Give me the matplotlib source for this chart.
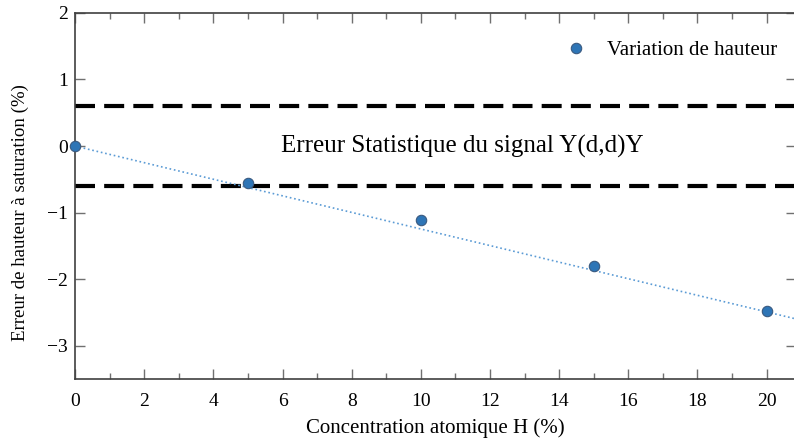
import matplotlib.pyplot as plt
import numpy as np

# concentration H (%) and relative height error (%)
conc = [0, 5, 10, 15, 20]
err = [0.0, -0.55, -1.11, -1.80, -2.48]
stat_err = 0.6
x_fit = [0, 20.85]
fit_slope = -0.1245

plt.rcParams['font.family'] = ['Liberation Serif', 'DejaVu Serif']
plt.rcParams['axes.unicode_minus'] = True

fig = plt.figure(figsize=(7.94, 4.45), dpi=100)
ax = fig.add_axes([0.0945, 0.148, 0.908, 0.823])

# statistical error band limits
for yv in (stat_err, -stat_err):
    ax.axhline(yv, color='black', lw=3, dashes=(4.8, 2.2), zorder=1)

ax.plot(x_fit, [fit_slope * v for v in x_fit], ls=':', color='#5b9bd5', lw=1.2, zorder=2)
ax.plot(conc, err, 'o', color='#2e75b6', mec='#3a5a80', mew=0.8, ms=7.5,
        label='Variation de hauteur', zorder=3, clip_on=False)

ax.text(11.2, 0.0, 'Erreur Statistique du signal Y(d,d)Y', fontsize=18, ha='center', va='center')

ax.set_xlim(0, 20.85)
ax.set_ylim(-3.5, 2)
ax.set_xticks(np.arange(0, 21, 2))
ax.set_xticks(np.arange(1, 21, 2), minor=True)
ax.set_yticks([-3, -2, -1, 0, 1, 2])

for s in ['left', 'bottom', 'top', 'right']:
    ax.spines[s].set_color('#404040')
    ax.spines[s].set_linewidth(1.2)

ax.tick_params(which='both', direction='in', top=True, right=True, color='#707070', labelsize=14)
ax.tick_params(which='major', length=7, width=1)
ax.tick_params(which='minor', length=4, width=1)
ax.tick_params(axis='x', pad=10)
ax.tick_params(axis='y', pad=5)

ax.set_xlabel('Concentration atomique H (%)', fontsize=15, labelpad=6)
ax.set_ylabel('Erreur de hauteur à saturation (%)', fontsize=13.6)
ax.yaxis.set_label_coords(-0.064, 0.456)

ax.legend(loc='upper right', frameon=False, fontsize=15, handletextpad=0.5,
          bbox_to_anchor=(1.0, 0.975))

fig.savefig('out.png', dpi=100)
